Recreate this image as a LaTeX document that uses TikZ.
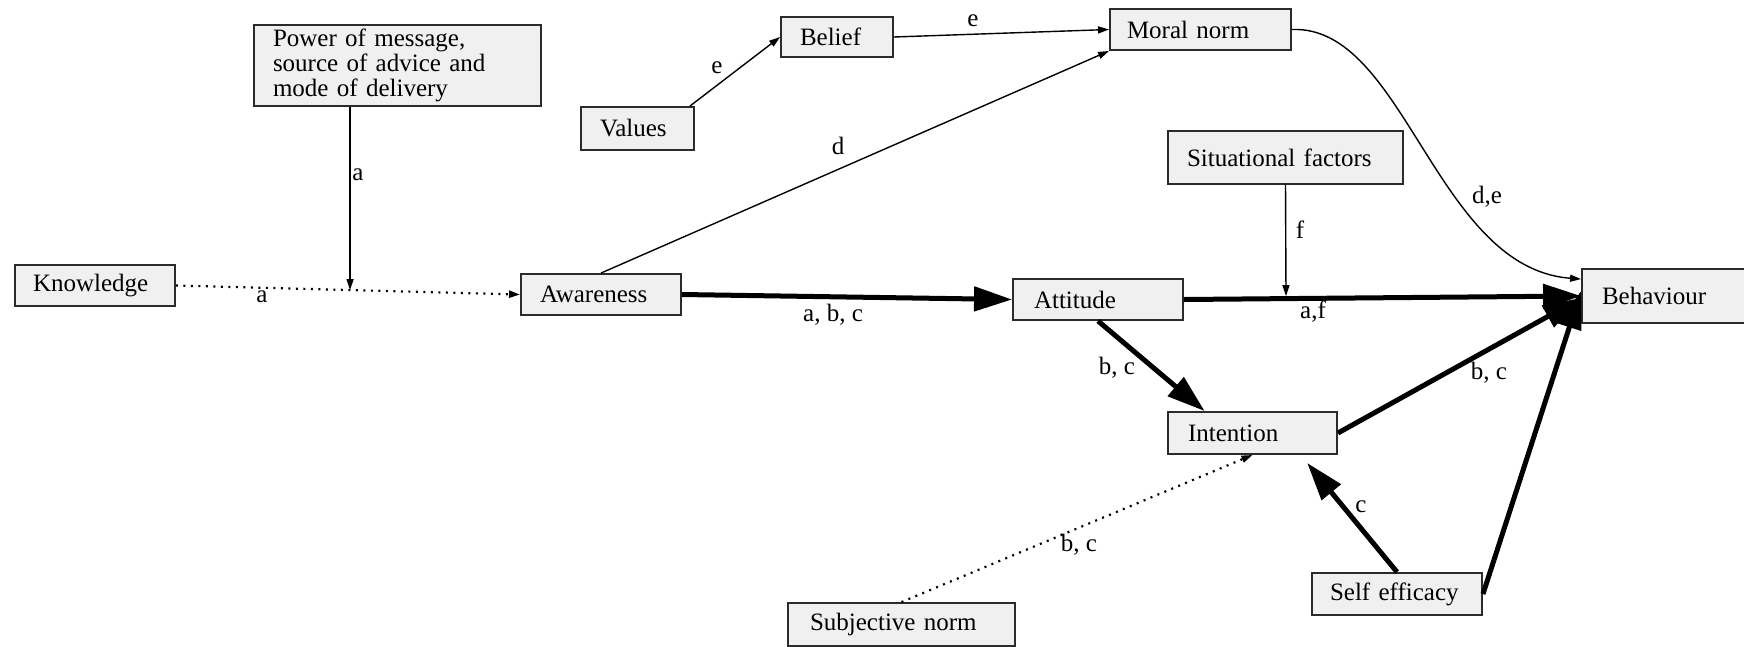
\documentclass[tikz,border=0pt]{standalone}
\usepackage{fontspec}
\setmainfont{Liberation Serif}
\usetikzlibrary{arrows.meta,calc}
\definecolor{boxfill}{HTML}{F0F0F0}
\definecolor{boxline}{HTML}{2B2B2B}
\begin{document}
\begin{tikzpicture}[x=1pt,y=-1pt,
  box/.style={draw=boxline, fill=boxfill, line width=1.9pt, inner xsep=19pt, inner ysep=0pt,
    align=left, font=\fontsize{25}{25}\selectfont, anchor=center},
  lbl/.style={font=\fontsize{25}{25}\selectfont, inner sep=0pt},
  thinarr/.style={line width=1.4pt, -{Triangle[length=11pt,width=7pt]}},
  thickarr/.style={line width=5pt, -{Triangle[length=38pt,width=24pt]}},
  dotarr/.style={line width=2.2pt, dash pattern=on 2pt off 5.5pt, -{Triangle[length=11pt,width=7pt]}},
]
\useasboundingbox (0,0) rectangle (1744,646);
\fill[white] (0,0) rectangle (1744,646);

% boxes
\node[box, minimum height=81pt, text width=249pt] (power) at (397.5,65.5)
  {Power of message,\\source of advice and\\mode of delivery};
\node[box, minimum height=43pt, text width=75pt] (values) at (637.5,128.5) {Values};
\node[box, minimum height=40pt, text width=74pt] (belief) at (837,37) {Belief};
\node[box, minimum height=41pt, text width=147pt, inner xsep=17pt] (moral) at (1200.5,29.5) {Moral norm};
\node[box, minimum height=53pt, text width=197pt] (situational) at (1285.5,157.5) {Situational factors};
\node[box, minimum height=41pt, text width=124pt, inner xsep=18pt] (knowledge) at (95,285.5) {Knowledge};
\node[box, minimum height=41pt, text width=122pt] (awareness) at (601,294.5) {Awareness};
\node[box, minimum height=41pt, text width=128pt, inner xsep=21pt] (attitude) at (1098,299.5) {Attitude};
\node[box, minimum height=54pt, text width=160pt, inner xsep=20pt] (behaviour) at (1682,296) {Behaviour};
\node[box, minimum height=42pt, text width=129pt, inner xsep=20pt] (intention) at (1252.5,433) {Intention};
\node[box, minimum height=42pt, text width=134pt, inner xsep=18pt] (selfeff) at (1397,594) {Self efficacy};
\node[box, minimum height=43pt, text width=183pt, inner xsep=22pt] (subjective) at (901.5,624.5) {Subjective norm};

% junction coordinates
\coordinate (kj) at ($(knowledge.east)!0.506!(awareness.west)$);
\coordinate (sj) at ($(attitude.east)!0.257!(behaviour.west)$);

% connectors
\draw[dotarr] (knowledge.east) -- (awareness.west);
\draw[thinarr] (kj |- power.south) -- (kj);
\draw[thickarr] (awareness.east) -- (attitude.west);
\draw[thinarr] (awareness.north) -- (moral.south west);
\draw[thinarr] ([xshift=-5pt]values.north east) -- (belief.west);
\draw[thinarr] (belief.east) -- (moral.west);
\draw[thinarr] (moral.east) .. controls (1405,25) and (1435,268) .. ([yshift=-11pt]behaviour.north west);
\draw[thinarr, shorten >=2.5pt] (situational.south) -- (sj);
\draw[thickarr] (attitude.east) -- (behaviour.west);
\draw[thickarr] (attitude.south) -- ($(intention.north west)!0.22!(intention.north east)$);
\draw[thickarr] (intention.east) -- ([yshift=-2pt]behaviour.west);
\draw[thickarr] (selfeff.north) -- ([yshift=-8pt]$(intention.south west)!0.82!(intention.south east)$);
\draw[thickarr] (selfeff.east) -- ([yshift=5pt]behaviour.west);
\draw[dotarr] (subjective.north) -- (intention.south);

% labels
\node[lbl] (la1) at (358,175) {a};
\node[lbl] (la2) at (262,297) {a};
\node[lbl] (labc) at (833,315) {a, b, c};
\node[lbl] (le1) at (717,68) {e};
\node[lbl] (le2) at (973,21) {e};
\node[lbl] (ld) at (838,146) {d};
\node[lbl] (lf) at (1300,230) {f};
\node[lbl] (laf) at (1313,312) {a,f};
\node[lbl] (lde) at (1487,197) {d,e};
\node[lbl] (lbc1) at (1117,368) {b, c};
\node[lbl] (lbc2) at (1489,373) {b, c};
\node[lbl] (lc) at (1361,507) {c};
\node[lbl] (lbc3) at (1079,545) {b, c};
\end{tikzpicture}
\end{document}
